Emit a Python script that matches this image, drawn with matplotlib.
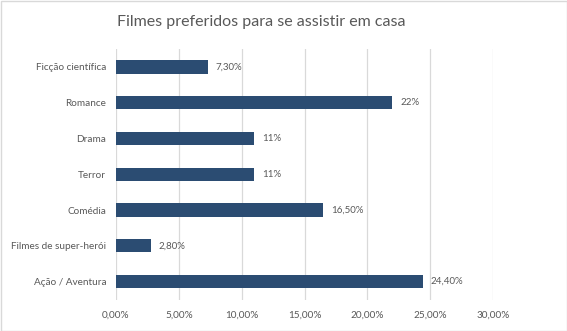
import matplotlib.pyplot as plt
from matplotlib.ticker import FuncFormatter

categories = ["Ficção científica", "Romance", "Drama", "Terror", "Comédia",
              "Filmes de super-herói", "Ação / Aventura"]
values = [7.3, 22.0, 11.0, 11.0, 16.5, 2.8, 24.4]
value_labels = ["7,30%", "22%", "11%", "11%", "16,50%", "2,80%", "24,40%"]
x_ticks = [0, 5, 10, 15, 20, 25, 30]

plt.rcParams['font.family'] = ['Lato', 'DejaVu Sans']
text_color = "#595959"

fig = plt.figure(figsize=(5.67, 3.31), dpi=100)
ax = fig.add_axes([116 / 567, 1 - 299.5 / 331, (493 - 116) / 567, 250.5 / 331])

pos = list(range(len(categories)))
ax.barh(pos, values, height=0.37, color="#2B4C72", zorder=3)
for p, v, lab in zip(pos, values, value_labels):
    ax.text(v + 0.6, p, lab, va="center", ha="left", fontsize=7.0, color=text_color)

ax.set_xlim(0, 30)
ax.set_ylim(len(categories) - 0.5, -0.5)
ax.set_yticks(pos)
ax.set_yticklabels(categories)
ax.set_xticks(x_ticks)
ax.xaxis.set_major_formatter(FuncFormatter(lambda x, _: f"{x:.2f}%".replace(".", ",")))
ax.grid(axis="x", color="#D9D9D9", linewidth=0.9, zorder=0)
ax.tick_params(length=0, labelsize=7.2, colors=text_color, pad=7)
ax.tick_params(axis="x", pad=8)
for s in ax.spines.values():
    s.set_visible(False)

fig.text(261.5 / 567, 1 - 22 / 331, "Filmes preferidos para se assistir em casa",
         ha="center", va="center", fontsize=11.5, color=text_color)

border = plt.Rectangle((0.5 / 567, 0.5 / 331), 1 - 1 / 567, 1 - 1 / 331,
                       transform=fig.transFigure, fill=False, edgecolor="#D9D9D9", linewidth=1)
fig.patches.append(border)

fig.savefig("out.png", dpi=100)
